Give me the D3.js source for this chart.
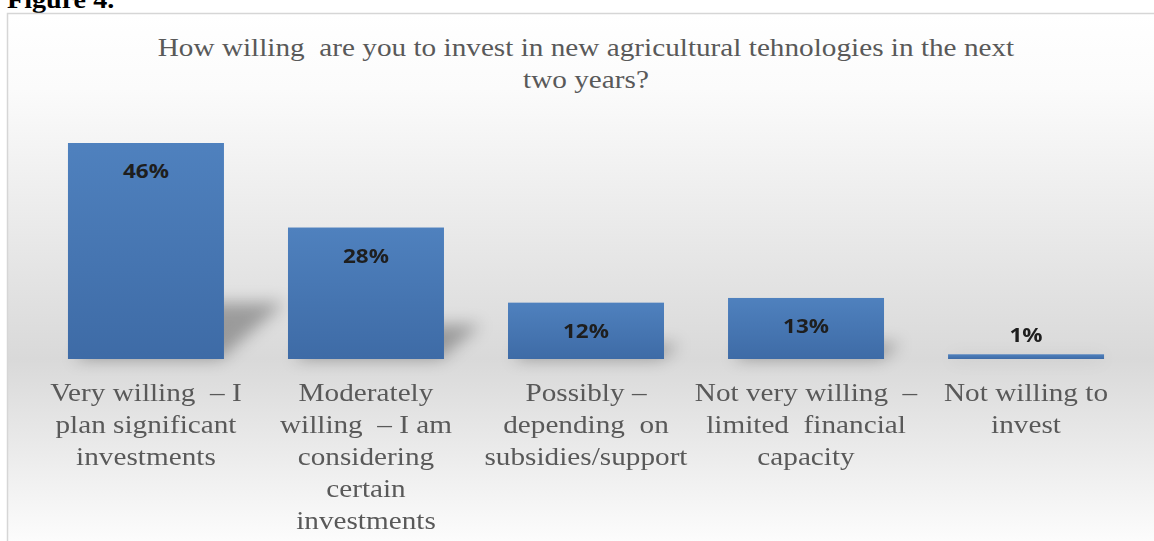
<!DOCTYPE html>
<html>
<head>
<meta charset="utf-8">
<script src="https://cdn.jsdelivr.net/npm/d3@7/dist/d3.min.js"></script>
<style>
  html, body { margin: 0; padding: 0; background: #ffffff; overflow: hidden; }
  svg text { white-space: pre; }
</style>
</head>
<body>
<svg id="chart" width="1154" height="541"></svg>
<script>
// Survey answers (each entry is one wrapped axis label) and their shares in percent
const categories = [
  ["Very willing  – I", "plan significant", "investments"],
  ["Moderately", "willing  – I am", "considering", "certain", "investments"],
  ["Possibly –", "depending  on", "subsidies/support"],
  ["Not very willing  –", "limited  financial", "capacity"],
  ["Not willing to", "invest"]
];
const values = [46, 28, 12, 13, 1];
const titleLines = [
  "How willing  are you to invest in new agricultural tehnologies in the next",
  "two years?"
];
const figureLabel = "Figure 4.";

const W = 1154, H = 541;
const STRETCH = 1.125; // text is set slightly wide
const svg = d3.select("#chart");
const defs = svg.append("defs");

// horizontal widening of a text around its own anchor x
const widen = cx => `translate(${cx},0) scale(${STRETCH},1) translate(${-cx},0)`;

// Chart area background: white at the top, grey band behind the baseline, white again below
const bg = defs.append("linearGradient").attr("id", "bgGrad")
  .attr("x1", 0).attr("y1", 0).attr("x2", 0).attr("y2", 1);
[[0, "#ffffff"], [0.14, "#fbfbfb"], [0.45, "#e6e6e6"], [0.64, "#d9d9d9"], [0.82, "#ececec"], [1, "#ffffff"]]
  .forEach(([o, c]) => bg.append("stop").attr("offset", o).attr("stop-color", c));

// Bar fill: slightly darker towards the base
const barGrad = defs.append("linearGradient").attr("id", "barGrad")
  .attr("x1", 0).attr("y1", 0).attr("x2", 0).attr("y2", 1);
barGrad.append("stop").attr("offset", 0).attr("stop-color", "#4f81be");
barGrad.append("stop").attr("offset", 1).attr("stop-color", "#3e6ba6");

// Soft perspective shadow
defs.append("filter").attr("id", "shadowBlur")
  .attr("x", "-50%").attr("y", "-50%").attr("width", "200%").attr("height", "200%")
  .append("feGaussianBlur").attr("stdDeviation", 8);

// Page caption above the chart box
svg.append("text")
  .attr("x", 7).attr("y", 8)
  .attr("transform", widen(7))
  .attr("font-family", "'Liberation Serif', 'Times New Roman', serif")
  .attr("font-weight", "bold").attr("font-size", 25)
  .attr("fill", "#000")
  .text(figureLabel);

// Chart box
svg.append("rect")
  .attr("x", 7.5).attr("y", 13.5)
  .attr("width", W).attr("height", H)
  .attr("fill", "url(#bgGrad)")
  .attr("stroke", "#d6d6d6").attr("stroke-width", 1.5);

const keys = categories.map(c => c.join(" "));
const data = keys.map((k, i) => ({ key: k, lines: categories[i], value: values[i] }));

const x = d3.scaleBand().domain(keys)
  .range([36.5, 1135.5]).paddingInner(0.291).paddingOuter(0.143);
const y = d3.scaleLinear().domain([0, 46]).range([359, 143]);
const cx = d => x(d.key) + x.bandwidth() / 2;

// Title
const titleX = 586;
svg.append("g").attr("transform", widen(titleX))
  .selectAll("text").data(titleLines).join("text")
  .attr("x", titleX).attr("y", (d, i) => 56 + i * 32)
  .attr("text-anchor", "middle")
  .attr("font-family", "'Liberation Serif', 'Times New Roman', serif")
  .attr("font-size", 26).attr("fill", "#595959")
  .text(d => d);

// Shadows cast towards the upper right, behind the bars
svg.append("g").attr("filter", "url(#shadowBlur)").selectAll("polygon").data(data).join("polygon")
  .attr("points", d => {
    const x0 = x(d.key), x1 = x0 + x.bandwidth();
    const yb = y(0), h = y(0) - y(d.value);
    const dx = h * 0.28, dy = h * 0.26;
    return [[x0 + 6, yb], [x1 - 4, yb], [x1 + dx, yb - dy], [x0 + dx, yb - dy]].map(p => p.join(",")).join(" ");
  })
  .attr("fill", "#000").attr("opacity", 0.3);

// Bars
svg.append("g").selectAll("rect").data(data).join("rect")
  .attr("x", d => x(d.key))
  .attr("y", d => y(d.value))
  .attr("width", x.bandwidth())
  .attr("height", d => y(0) - y(d.value))
  .attr("fill", "url(#barGrad)");

// Value labels: inside the top of the bar, above it when the bar is too short
svg.append("g").selectAll("text").data(data).join("text")
  .attr("x", cx)
  .attr("y", d => (y(0) - y(d.value) > 40) ? y(d.value) + 35 : y(d.value) - 12)
  .attr("transform", d => widen(cx(d)))
  .attr("text-anchor", "middle")
  .attr("font-family", "'Open Sans', 'Noto Sans', sans-serif")
  .attr("font-weight", "bold").attr("font-size", 20)
  .attr("fill", "#1e1e1e")
  .text(d => d.value + "%");

// Category labels under each bar
const cat = svg.append("g").selectAll("text").data(data).join("text")
  .attr("transform", d => widen(cx(d)))
  .attr("text-anchor", "middle")
  .attr("font-family", "'Liberation Serif', 'Times New Roman', serif")
  .attr("font-size", 26).attr("fill", "#595959");
cat.selectAll("tspan").data(d => d.lines.map(l => ({ l, c: cx(d) })))
  .join("tspan")
  .attr("x", t => t.c)
  .attr("y", (t, i) => 401 + i * 32)
  .text(t => t.l);
</script>
</body>
</html>
